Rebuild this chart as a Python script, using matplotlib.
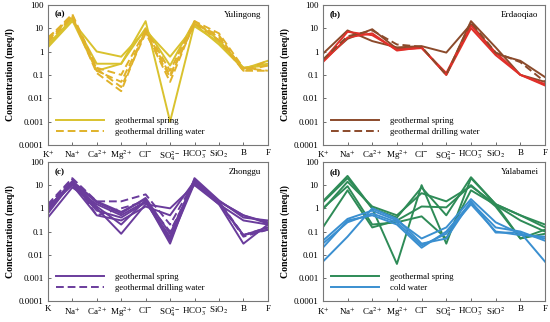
import numpy as np
import matplotlib.pyplot as plt
from matplotlib.lines import Line2D

plt.rcParams['font.family'] = ['Liberation Serif', 'DejaVu Serif']
plt.rcParams['mathtext.fontset'] = 'stix'

ions = ['K$^{+}$', 'Na$^{+}$', 'Ca$^{2+}$', 'Mg$^{2+}$', 'Cl$^{-}$', 'SO$_4^{2-}$',
        'HCO$_3^{-}$', 'SiO$_2$', 'B', 'F']
ions_c = ['K', 'Na$^{+}$', 'Ca$^{2+}$', 'Mg$^{2+}$', 'Cl$^{-}$', 'SO$_4^{2-}$',
          'HCO$_3^{-}$', 'SiO$_2$', 'B', 'F']
ions_d = ['K$^{+}$', 'Na$^{+}$', 'Ca$^{2+}$', 'Mg$^{2+}$', 'Cl$^{-}$', 'SO$_4^{2-}$',
          'HCO$_3^{-}$', 'SiO$^{2}$', 'B', 'F']

# (a) Yulingong
a_spring = [
    [1.5, 20, 1.0, 0.6, 8, 0.6, 12, 2.5, 0.2, 0.3],
    [2.0, 25, 0.3, 0.3, 20, 0.001, 15, 2.0, 0.18, 0.4],
    [1.8, 22, 0.15, 0.3, 10, 0.25, 20, 3.0, 0.2, 0.25],
]
a_drill = [
    [3.5, 40, 0.2, 0.1, 8, 0.1, 15, 5, 0.15, 0.4],
    [3.0, 35, 0.15, 0.05, 7, 0.05, 18, 4, 0.15, 0.25],
    [4.0, 30, 0.12, 0.02, 9, 0.15, 20, 6, 0.2, 0.15],
    [2.5, 30, 0.18, 0.03, 6, 0.08, 16, 3, 0.15, 0.15],
]

# (b) Erdaoqiao
b_spring_brown = [
    [0.8, 8, 2.8, 1.5, 1.7, 0.9, 15, 0.8, 0.4, 0.08],
    [0.4, 3.5, 9, 1.3, 1.5, 0.1, 20, 1.5, 0.1, 0.05],
]
b_spring_red = [
    [0.35, 4, 6, 1.1, 1.5, 0.1, 10, 0.7, 0.1, 0.035],
    [0.4, 7, 5, 1.2, 1.4, 0.12, 13, 0.9, 0.1, 0.04],
]
b_drill = [
    [0.45, 4.5, 8, 2.0, 1.6, 0.1, 18, 0.9, 0.35, 0.05],
]

# (c) Zhonggu
c_spring = [
    [1.0, 15, 2.0, 0.7, 2.5, 0.05, 18, 2.0, 0.5, 0.25],
    [0.4, 8, 1.5, 0.5, 2.0, 0.04, 12, 1.5, 0.3, 0.2],
    [0.8, 12, 1.0, 0.08, 1.5, 1.0, 10, 1.5, 0.03, 0.2],
    [1.2, 10, 0.5, 0.3, 1.2, 0.5, 15, 1.8, 0.07, 0.12],
    [0.6, 14, 1.2, 0.2, 2.2, 0.03, 20, 2.2, 0.4, 0.3],
    [0.9, 11, 0.8, 0.4, 1.8, 0.06, 14, 1.6, 0.07, 0.15],
    [1.1, 13, 1.8, 0.6, 2.8, 0.08, 16, 2.0, 0.5, 0.22],
]
c_drill = [
    [1.5, 20, 2.0, 2.0, 4.0, 0.2, 15, 2.0, 0.07, 0.15],
    [1.3, 18, 0.5, 1.0, 2.0, 0.1, 12, 1.8, 0.06, 0.12],
]

# (d) Yalabamei
d_spring = [
    [2.0, 25, 1.0, 0.004, 10, 0.03, 20, 1.5, 0.5, 0.2],
    [0.9, 14, 1.2, 0.5, 4.5, 2.0, 9, 1.5, 0.5, 0.15],
    [0.15, 6, 0.15, 0.3, 1.2, 1.1, 10, 1.2, 0.05, 0.12],
    [1.0, 9, 0.2, 0.25, 0.45, 0.05, 6, 1.4, 0.3, 0.1],
    [1.8, 20, 1.0, 0.4, 8, 0.5, 22, 1.5, 0.05, 0.08],
]
d_cold = [
    [0.04, 0.35, 0.8, 0.3, 0.05, 0.15, 2.5, 0.25, 0.08, 0.05],
    [0.02, 0.3, 0.5, 0.2, 0.02, 0.1, 1.8, 0.15, 0.1, 0.04],
    [0.005, 0.06, 1.0, 0.35, 0.03, 0.05, 2.0, 0.09, 0.09, 0.005],
    [0.03, 0.25, 0.6, 0.25, 0.025, 0.08, 1.5, 0.1, 0.07, 0.06],
]

fig = plt.figure(figsize=(5.5, 3.22), dpi=100)
boxes = [[0.087, 0.55, 0.40, 0.435], [0.587, 0.55, 0.404, 0.435],
         [0.087, 0.065, 0.40, 0.432], [0.587, 0.065, 0.404, 0.432]]
x = np.arange(10)
LW = 1.4
DASH = (0, (4, 2))


def setup(ax, labels, tag, site):
    ax.set_yscale('log')
    ax.set_ylim(0.0001, 100)
    ax.set_xlim(0, 9)
    ax.set_xticks(x)
    ax.set_xticklabels(labels, fontsize=6.5)
    ax.set_yticks([0.0001, 0.001, 0.01, 0.1, 1, 10, 100])
    ax.set_yticklabels(['0.0001', '0.001', '0.01', '0.1', '1', '10', '100'], fontsize=6.5)
    ax.minorticks_off()
    ax.tick_params(direction='in', length=2, width=0.6, color='#555555', pad=3)
    for s in ax.spines.values():
        s.set_color('#777777')
        s.set_linewidth(0.8)
    ax.set_ylabel('Concentration (meq/l)', fontsize=7, fontweight='bold', labelpad=3)
    ax.text(0.03, 0.93, tag, transform=ax.transAxes, fontsize=6.5, fontweight='bold', va='center')
    ax.text(0.97, 0.93, site, transform=ax.transAxes, fontsize=6.5, ha='right', va='center')


def legend(ax, c1, c2, l1, l2, ls2):
    h = [Line2D([], [], color=c1, lw=LW), Line2D([], [], color=c2, lw=LW, ls=ls2)]
    ax.legend(h, [l1, l2], loc='lower left', frameon=False, fontsize=6.3,
              handlelength=5.5, handletextpad=1.3, labelspacing=0.3,
              bbox_to_anchor=(0.0, 0.01))


# (a)
ax = fig.add_axes(boxes[0])
setup(ax, ions, '(a)', 'Yulingong')
for v in a_spring:
    ax.plot(x, v, color='#D9C22E', lw=LW)
for v in a_drill:
    ax.plot(x, v, color='#E0B22A', lw=LW, ls=DASH)
legend(ax, '#D9C22E', '#E0B22A', 'geothermal spring', 'geothermal drilling water', DASH)

# (b)
ax = fig.add_axes(boxes[1])
setup(ax, ions, '(b)', 'Erdaoqiao')
for v in b_spring_brown:
    ax.plot(x, v, color='#8B4A2B', lw=LW)
for v in b_spring_red:
    ax.plot(x, v, color='#E0302A', lw=LW)
for v in b_drill:
    ax.plot(x, v, color='#8B4A2B', lw=LW, ls=DASH)
legend(ax, '#8B4A2B', '#8B4A2B', 'geothermal spring', 'geothermal drilling water', DASH)

# (c)
ax = fig.add_axes(boxes[2])
setup(ax, ions_c, '(c)', 'Zhonggu')
for v in c_spring:
    ax.plot(x, v, color='#6A3C9C', lw=LW)
for v in c_drill:
    ax.plot(x, v, color='#6A3C9C', lw=LW, ls=DASH)
legend(ax, '#6A3C9C', '#6A3C9C', 'geothermal spring', 'geothermal drilling water', DASH)

# (d)
ax = fig.add_axes(boxes[3])
setup(ax, ions_d, '(d)', 'Yalabamei')
for v in d_spring:
    ax.plot(x, v, color='#2E8B57', lw=LW)
for v in d_cold:
    ax.plot(x, v, color='#3A8FD0', lw=LW)
legend(ax, '#2E8B57', '#3A8FD0', 'geothermal spring', 'cold water', '-')

fig.savefig('out.png', dpi=100)
